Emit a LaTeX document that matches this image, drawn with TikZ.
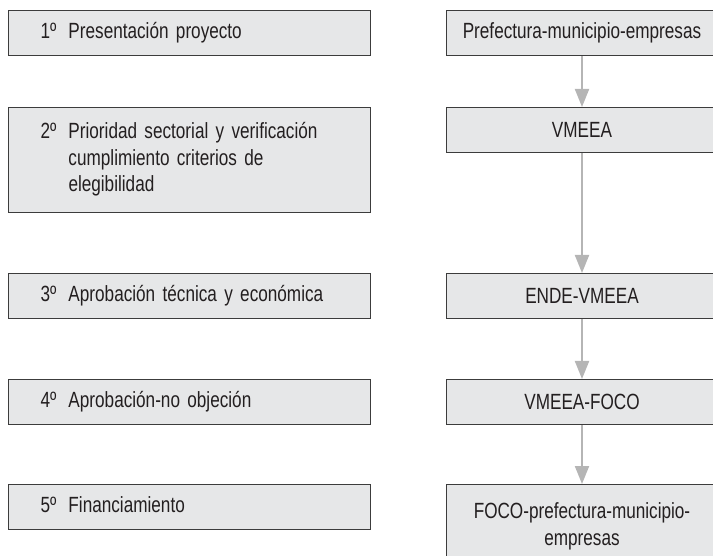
\documentclass[tikz,border=0pt]{standalone}
\usepackage{fontspec}
\setmainfont{Liberation Sans}[FakeStretch=0.78, WordSpace=0.8]
\usetikzlibrary{arrows.meta}

\definecolor{cajagris}{HTML}{E6E7E8}
\definecolor{bordegris}{HTML}{3C3C3C}
\definecolor{textogris}{HTML}{231F20}
\definecolor{flechagris}{HTML}{B5B5B5}

\newcommand{\etapa}[2]{\makebox[28pt][l]{#1}\begin{tabular}[t]{@{}l@{}}#2\end{tabular}}

\begin{document}
\begin{tikzpicture}[x=1pt, y=-1pt,
    caja/.style={draw=bordegris, line width=1pt, fill=cajagris, inner ysep=0pt,
      anchor=north west, text=textogris, font=\fontsize{22}{26.5}\selectfont},
    paso/.style={caja, minimum width=362pt, inner xsep=32pt, text width=298pt, align=left},
    ente/.style={caja, minimum width=271pt, inner xsep=8pt, text width=255pt, align=center},
    flecha/.style={color=flechagris, line width=2pt, -{Triangle[width=14pt,length=18pt]}}]
  \useasboundingbox (0,0) rectangle (713,556);
  \clip (0,0) rectangle (713,556);

  % etapas
  \foreach \n/\y/\h/\txt in {1/10/45/{Presentación proyecto},
      2/107/105/{Prioridad sectorial y verificación\\cumplimiento criterios de\\elegibilidad},
      3/273/45/{Aprobación técnica y económica},
      4/379/45/{Aprobación-no objeción},
      5/484/45/{Financiamiento}}
    \node[paso, minimum height=\h pt] (paso\n) at (8,\y) {\etapa{{\n}º}{\txt}};

  % responsables
  \foreach \n/\y/\h/\txt in {1/10/45/{Prefectura-municipio-empresas},
      2/107/45/{VMEEA},
      3/273/45/{ENDE-VMEEA},
      4/379/45/{VMEEA-FOCO},
      5/484/84/{FOCO-prefectura-municipio-\\empresas}}
    \node[ente, minimum height=\h pt] (ente\n) at (446,\y) {\txt};

  \foreach \a/\b in {1/2, 2/3, 3/4, 4/5}
    \draw[flecha] (ente\a) -- (ente\b);
\end{tikzpicture}
\end{document}
